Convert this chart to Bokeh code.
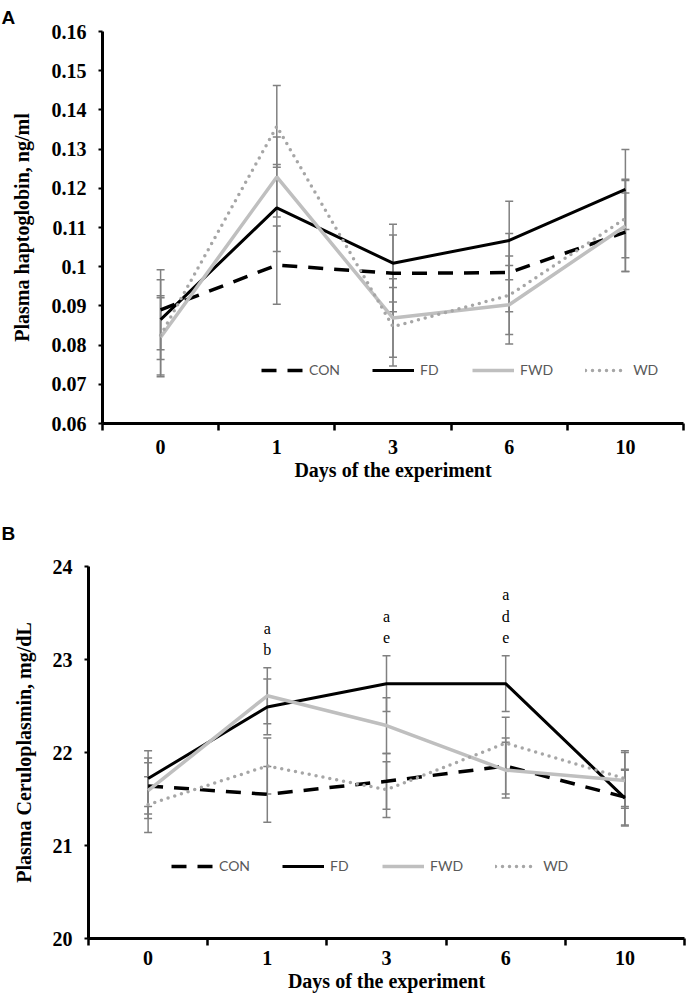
from bokeh.plotting import figure
from bokeh.models import (Range1d, FixedTicker, Whisker, TeeHead, ColumnDataSource,
                          Legend, LegendItem)
from bokeh.embed import file_html
from bokeh.resources import INLINE
from bokeh.core.properties import value

# ---------------- data ----------------
days = ["0", "1", "3", "6", "10"]
x_idx = [0, 1, 2, 3, 4]
x_bounds = [-0.5, 0.5, 1.5, 2.5, 3.5, 4.5]
series = ["CON", "FD", "FWD", "WD"]

# Panel A: plasma haptoglobin (ng/ml)
hp_con = [0.0890, 0.1004, 0.0983, 0.0985, 0.1088]
hp_fd = [0.0865, 0.1150, 0.1009, 0.1067, 0.1197]
hp_fwd = [0.0820, 0.1229, 0.0869, 0.0903, 0.1104]
hp_wd = [0.0825, 0.1358, 0.0847, 0.0927, 0.1123]
hp_con_err = [0.0102, 0.0100, 0.0098, 0.0100, 0.0100]
hp_fd_err = [0.0102, 0.0111, 0.0099, 0.0100, 0.0102]
hp_fwd_err = [0.0101, 0.0102, 0.0100, 0.0100, 0.0116]
hp_wd_err = [0.0101, 0.0104, 0.0100, 0.0100, 0.0100]
hp_ticks = [0.06, 0.07, 0.08, 0.09, 0.1, 0.11, 0.12, 0.13, 0.14, 0.15, 0.16]
hp_tick_labels = ["0.06", "0.07", "0.08", "0.09", "0.1", "0.11", "0.12", "0.13", "0.14", "0.15", "0.16"]

# Panel B: plasma ceruloplasmin (mg/dL)
cp_con = [21.64, 21.55, 21.69, 21.855, 21.52]
cp_fd = [21.72, 22.49, 22.74, 22.74, 21.51]
cp_fwd = [21.59, 22.61, 22.29, 21.81, 21.70]
cp_wd = [21.44, 21.855, 21.60, 22.10, 21.72]
cp_con_err = [0.30, 0.30, 0.30, 0.30, 0.30]
cp_fd_err = [0.30, 0.30, 0.30, 0.30, 0.30]
cp_fwd_err = [0.30, 0.30, 0.30, 0.30, 0.30]
cp_wd_err = [0.30, 0.30, 0.30, 0.28, 0.30]
cp_ticks = [20, 21, 22, 23, 24]
cp_tick_labels = ["20", "21", "22", "23", "24"]

# significance letters (panel B)
sig_idx = [1, 2, 3]
sig_text = ["a\nb", "a\ne", "a\nd\ne"]

# ---------------- styling ----------------
STYLE = {
    "CON": dict(line_color="black", line_width=3.5, line_dash="15 11", line_cap="butt"),
    "FD": dict(line_color="black", line_width=3),
    "FWD": dict(line_color="#BFBFBF", line_width=3.5),
    "WD": dict(line_color="#A6A6A6", line_width=3.5, line_dash="0 7", line_cap="round"),
}
SERIF = "Liberation Serif"
W = 686


def make_panel(h, mtop, mbot, mleft, mright, ylo, yhi, yticks, ylabels, vals, errs,
               legend_loc, ylab, ylab_standoff, xlab_standoff, letter, letter_offset,
               letter_standoff):
    p = figure(width=W, height=h, x_range=Range1d(-0.5, 4.5), y_range=Range1d(ylo, yhi),
               output_backend="svg", toolbar_location=None,
               min_border_top=mtop, min_border_bottom=mbot,
               min_border_left=mleft, min_border_right=mright)
    p.outline_line_color = None
    p.xgrid.visible = False
    p.ygrid.visible = False

    p.title.text = letter
    p.title.align = "left"
    p.title.offset = letter_offset
    p.title.standoff = letter_standoff
    p.title.text_font = "Liberation Sans"
    p.title.text_font_style = "bold"
    p.title.text_font_size = "19px"
    p.title.text_color = "black"

    # x axis: labels at category centres, ticks at category boundaries
    xa = p.xaxis[0]
    xa.ticker = FixedTicker(ticks=x_idx, minor_ticks=x_bounds)
    xa.major_label_overrides = {i: d for i, d in zip(x_idx, days)}
    xa.major_tick_out = 0
    xa.major_tick_in = 0
    xa.minor_tick_out = 7
    xa.minor_tick_in = 0
    xa.minor_tick_line_color = "black"
    xa.minor_tick_line_width = 2.5
    xa.axis_line_width = 3
    xa.axis_line_color = "black"
    xa.major_label_text_font = SERIF
    xa.major_label_text_font_style = "bold"
    xa.major_label_text_font_size = "20px"
    xa.major_label_text_color = "black"
    xa.major_label_standoff = xlab_standoff
    xa.axis_label = "Days of the experiment"
    xa.axis_label_text_font = SERIF
    xa.axis_label_text_font_style = "bold"
    xa.axis_label_text_font_size = "20px"
    xa.axis_label_text_color = "black"
    xa.axis_label_standoff = 2

    ya = p.yaxis[0]
    ya.ticker = FixedTicker(ticks=yticks, minor_ticks=[])
    ya.major_label_overrides = {t: l for t, l in zip(yticks, ylabels)}
    ya.major_tick_out = 4
    ya.major_tick_in = 0
    ya.major_tick_line_width = 2
    ya.major_tick_line_color = "black"
    ya.axis_line_width = 3
    ya.axis_line_color = "black"
    ya.major_label_text_font = SERIF
    ya.major_label_text_font_style = "bold"
    ya.major_label_text_font_size = "20px"
    ya.major_label_text_color = "black"
    ya.major_label_standoff = 12
    ya.axis_label = ylab
    ya.axis_label_text_font = SERIF
    ya.axis_label_text_font_style = "bold"
    ya.axis_label_text_font_size = "20px"
    ya.axis_label_text_color = "black"
    ya.axis_label_standoff = ylab_standoff

    for v, e in zip(vals, errs):
        src = ColumnDataSource(dict(x=x_idx, y=v,
                                    upper=[a + b for a, b in zip(v, e)],
                                    lower=[a - b for a, b in zip(v, e)]))
        wk = Whisker(base="x", upper="upper", lower="lower", source=src,
                     line_color="#808080", line_width=1.5,
                     upper_head=TeeHead(size=8, line_color="#808080", line_width=1.5),
                     lower_head=TeeHead(size=8, line_color="#808080", line_width=1.5))
        p.add_layout(wk)

    items = []
    for name, v in zip(series, vals):
        r = p.line(x_idx, v, **STYLE[name])
        items.append(LegendItem(label=name, renderers=[r]))

    lg = Legend(items=items, orientation="horizontal", location=legend_loc,
                border_line_color=None, background_fill_alpha=0, padding=0, margin=0,
                spacing=32, glyph_width=42, glyph_height=14, label_standoff=6,
                label_text_font="Lato", label_text_font_size="14px",
                label_text_color="#595959", label_height=14)
    p.add_layout(lg)
    return p


# Panel A
pA = make_panel(494, 30, 71, 102, 3, 0.06, 0.16, hp_ticks, hp_tick_labels,
                [hp_con, hp_fd, hp_fwd, hp_wd],
                [hp_con_err, hp_fd_err, hp_fwd_err, hp_wd_err],
                (159, 45), "Plasma haptoglobin, ng/ml", 16, 9, "A", -101, 8)

# Panel B
pB = make_panel(500, 72, 55, 88, 2, 20, 24, cp_ticks, cp_tick_labels,
                [cp_con, cp_fd, cp_fwd, cp_wd],
                [cp_con_err, cp_fd_err, cp_fwd_err, cp_wd_err],
                (83, 64), "Plasma Ceruloplasmin, mg/dL", 15, 5, "B", -87, 46)

all_cp = [cp_con, cp_fd, cp_fwd, cp_wd]
all_cp_err = [cp_con_err, cp_fd_err, cp_fwd_err, cp_wd_err]
sig_y = [max(s[i] + e[i] for s, e in zip(all_cp, all_cp_err)) for i in sig_idx]
pB.text(x=sig_idx, y=sig_y, text=sig_text, text_align="center", text_baseline="bottom",
        y_offset=-10, text_font=value(SERIF), text_font_size="16px",
        text_color="black", text_line_height=1.25)

# two independent roots, stacked, so each keeps its own plot-area position
open("out.html", "w").write(file_html([pA, pB], INLINE))
